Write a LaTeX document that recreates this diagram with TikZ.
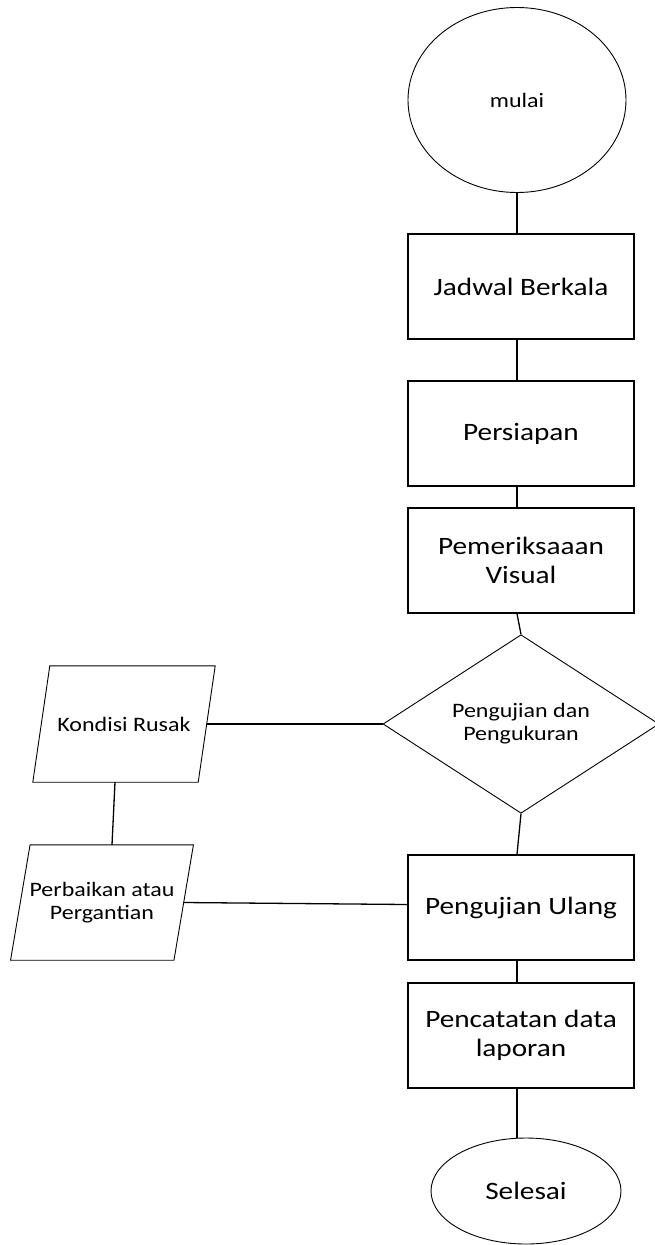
\documentclass[tikz,border=0pt]{standalone}
\usepackage{fontspec}
\setmainfont{Carlito}[FakeStretch=1.17]
\usetikzlibrary{shapes.geometric}
\def\BT{\fontsize{25}{29.5}\selectfont}
\def\ST{\fontsize{20.5}{23}\selectfont}
% slanted outline round a data node
\def\SL#1#2{\draw[line width=0.9pt] ([xshift=#2]#1.north west) -- ([xshift=#2]#1.north east)
  -- ([xshift=-#2]#1.south east) -- ([xshift=-#2]#1.south west) -- cycle;}

\begin{document}
\begin{tikzpicture}[x=1pt,y=-1pt,
  startstop/.style={ellipse,draw,line width=0.9pt,inner sep=0pt},
  process/.style={rectangle,draw,line width=1.5pt,minimum width=226pt,minimum height=105pt,align=center,font=\BT},
  decision/.style={diamond,draw,line width=0.9pt,minimum width=276pt,minimum height=174pt,inner sep=0pt,align=center,font=\ST},
  datanode/.style={rectangle,minimum width=165pt,minimum height=116pt,align=center,font=\ST},
  link/.style={line width=1.3pt}]
\useasboundingbox (0,0) rectangle (654,1245);
% main column
\node[startstop,minimum width=218pt,minimum height=185pt,font=\ST] (mulai) at (517,100) {mulai};
\node[process] (jadwal) at (521,286.5) {Jadwal Berkala};
\node[process] (persiapan) at (521,433.5) {Persiapan};
\node[process] (periksa) at (521,560.5) {Pemeriksaaan\\Visual};
\node[decision] (uji) at (521,724) {Pengujian dan\\Pengukuran};
\node[process] (ulang) at (521,907.5) {Pengujian Ulang};
\node[process] (catat) at (521,1035.5) {Pencatatan data\\laporan};
\node[startstop,minimum width=190pt,minimum height=106pt,font=\BT] (selesai) at (526,1191) {Selesai};
% left branch
\node[datanode] (rusak) at (124,724) {Kondisi Rusak};
\node[datanode,minimum width=163pt,minimum height=115pt] (ganti) at (102,902.5) {Perbaikan atau\\Pergantian};
\SL{rusak}{8.5pt}
\SL{ganti}{9.75pt}

\draw[link] (mulai) -- (mulai |- jadwal.north);
\draw[link] (jadwal.south -| mulai) -- (persiapan.north -| mulai);
\draw[link] (persiapan.south -| mulai) -- (periksa.north -| mulai);
\draw[link] (periksa.south -| mulai) -- (uji.north);
\draw[link] (uji.south) -- (ulang.north -| mulai);
\draw[link] (ulang.south -| mulai) -- (catat.north -| mulai);
\draw[link] (catat.south -| mulai) -- (selesai.north -| mulai);
\draw[link] (rusak.east) -- (uji.west);
\draw[link] ([xshift=-9pt]rusak.south) -- ([xshift=10pt]ganti.north);
\draw[link] (ganti.east) -- ([yshift=3pt]ulang.west);
\end{tikzpicture}
\end{document}
